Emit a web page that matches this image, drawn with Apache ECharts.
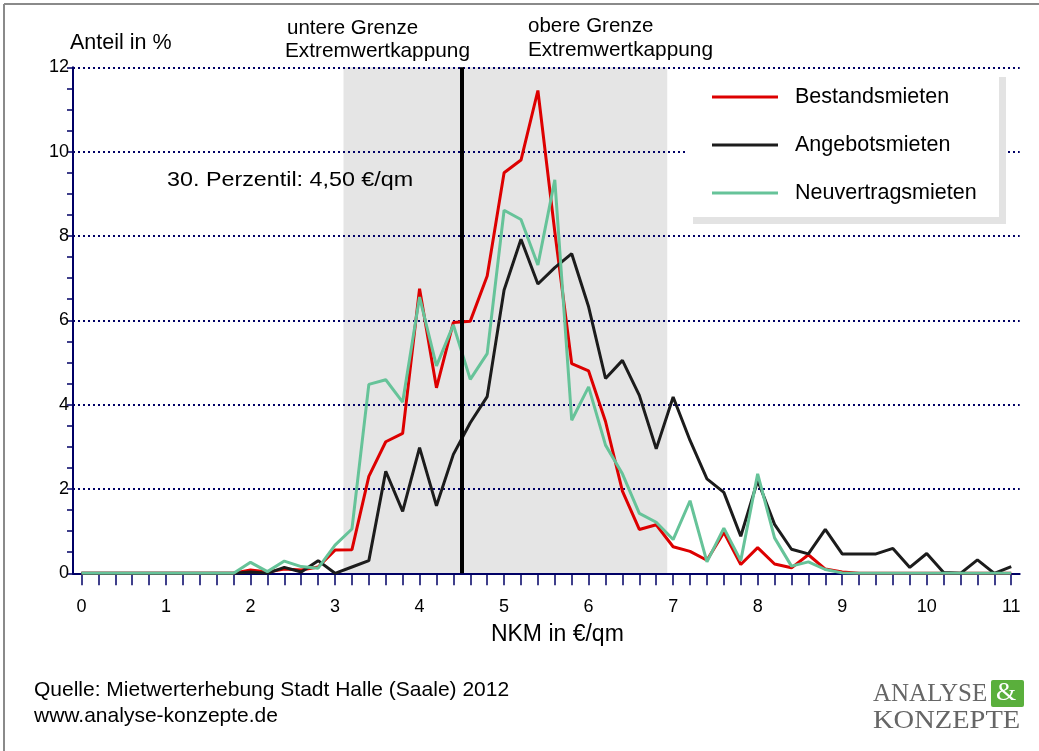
<!DOCTYPE html>
<html>
<head>
<meta charset="utf-8">
<script src="https://cdn.jsdelivr.net/npm/echarts@6/dist/echarts.min.js"></script>
<style>html,body{margin:0;padding:0;background:#fff}#c{width:1039px;height:751px}</style>
</head>
<body>
<div id="c"></div>
<script>
// NKM classes in €/qm (0.2 steps)
var xValues = [0,0.2,0.4,0.6,0.8,1,1.2,1.4,1.6,1.8,2,2.2,2.4,2.6,2.8,3,3.2,3.4,3.6,3.8,4,4.2,4.4,4.6,4.8,5,5.2,5.4,5.6,5.8,6,6.2,6.4,6.6,6.8,7,7.2,7.4,7.6,7.8,8,8.2,8.4,8.6,8.8,9,9.2,9.4,9.6,9.8,10,10.2,10.4,10.6,10.8,11];
var bestandsmieten = [0,0,0,0,0,0,0,0,0,0,
  0.08,0.03,0.1,0.08,0.15,0.55,0.56,2.3,3.12,3.32,6.75,4.4,5.95,5.98,7.05,9.5,9.8,11.45,8.1,4.97,4.8,3.6,1.95,1.04,1.15,0.63,0.52,0.31,0.97,0.21,0.61,0.22,0.13,0.44,0.1,0.03,
  0,0,0,0,0,0,0,0,0,0];
var angebotsmieten = [0,0,0,0,0,0,0,0,0,0,
  0.03,0,0.14,0.03,0.3,0,0.15,0.3,2.42,1.47,2.98,1.6,2.82,3.57,4.19,6.72,7.92,6.86,7.25,7.58,6.32,4.62,5.05,4.22,2.95,4.18,3.15,2.24,1.92,0.88,2.2,1.16,0.57,0.46,1.04,0.46,
  0.46,0.46,0.59,0.14,0.47,0.02,0,0.32,0,0.16];
var neuvertragsmieten = [0,0,0,0,0,0,0,0,0,0,
  0.26,0.04,0.29,0.16,0.12,0.67,1.05,4.48,4.59,4.06,6.55,4.92,5.89,4.6,5.21,8.61,8.39,7.31,9.33,3.63,4.42,3.04,2.36,1.42,1.21,0.8,1.72,0.27,1.07,0.3,2.36,0.84,0.17,0.27,0.09,0.01,
  0,0,0,0,0,0,0,0,0,0];
var seriesNames = ['Bestandsmieten','Angebotsmieten','Neuvertragsmieten'];
var xTickValues = xValues;
var xLabelValues = [0,1,2,3,4,5,6,7,8,9,10,11];
var bandFrom = 3.1, bandTo = 6.93;   // Extremwertkappung
var perzentil30 = 4.5;

function pair(ys){ return xValues.map(function(x,i){ return [x, ys[i]]; }); }

var FONT = '"Liberation Sans", Arial, sans-serif';
var SERIF = '"Liberation Serif", "DejaVu Serif", serif';
var NAVY = '#000066';

var chart = echarts.init(document.getElementById('c'), null, {renderer:'canvas'});
chart.setOption({
  animation: false,
  backgroundColor: '#fff',
  textStyle: {fontFamily: FONT},
  grid: {left: 73, right: 19.3, top: 67.3, bottom: 177.7, containLabel: false},
  xAxis: {
    type: 'value', min: -0.1, max: 11.1, z: 1.5,
    name: 'NKM in €/qm', nameLocation: 'middle', nameGap: 50,
    nameTextStyle: {fontSize: 23, color: '#000', fontFamily: FONT, padding: [0,0,0,22]},
    axisLine: {show: true, onZero: false, lineStyle: {color: NAVY, width: 2}},
    axisTick: {show: true, customValues: xTickValues, length: 12, lineStyle: {color: NAVY, width: 1.5}},
    axisLabel: {show: true, customValues: xLabelValues, hideOverlap: true, margin: 25, fontSize: 18, color: '#000', fontFamily: FONT},
    splitLine: {show: false}
  },
  yAxis: {
    type: 'value', min: 0, max: 12, interval: 2, z: 1.5,
    axisLine: {show: true, onZero: false, lineStyle: {color: NAVY, width: 2}},
    axisTick: {show: true, length: 6, lineStyle: {color: NAVY, width: 1.5}},
    minorTick: {show: true, splitNumber: 4, length: 6, lineStyle: {color: NAVY, width: 1.5}},
    axisLabel: {margin: 4, fontSize: 18, color: '#000', fontFamily: FONT},
    splitLine: {show: true, lineStyle: {color: NAVY, width: 2, type: [2,3]}}
  },
  legend: {
    orient: 'vertical', left: 707, top: 80, z: 8,
    itemWidth: 66, itemHeight: 3, itemGap: 24, icon: 'rect',
    data: seriesNames,
    selectedMode: false,
    textStyle: {fontSize: 21.5, color: '#000', fontFamily: FONT, lineHeight: 24, padding: [0,0,0,12]}
  },
  graphic: [
    {type: 'line', shape: {x1: 4, y1: 4, x2: 1039, y2: 4}, style: {stroke: '#8a8a8a', lineWidth: 2}, z: 6},
    {type: 'line', shape: {x1: 4, y1: 4, x2: 4, y2: 751}, style: {stroke: '#8a8a8a', lineWidth: 2}, z: 6},
    {type: 'rect', shape: {x: 693, y: 77, width: 313, height: 147}, style: {fill: '#e3e3e3'}, z: 6},
    {type: 'rect', shape: {x: 686, y: 70, width: 313, height: 147}, style: {fill: '#ffffff'}, z: 7},
    {type: 'text', left: 70, top: 32, z: 6, style: {text: 'Anteil in %', fontSize: 21.5, fill: '#000', fontFamily: FONT}},
    {type: 'text', left: 287, top: 18, z: 6, style: {text: 'untere Grenze', fontSize: 20.5, fill: '#000', fontFamily: FONT}},
    {type: 'text', left: 285, top: 41, z: 6, style: {text: 'Extremwertkappung', fontSize: 20.8, fill: '#000', fontFamily: FONT}},
    {type: 'text', left: 528, top: 16, z: 6, style: {text: 'obere Grenze', fontSize: 20.5, fill: '#000', fontFamily: FONT}},
    {type: 'text', left: 528, top: 40, z: 6, style: {text: 'Extremwertkappung', fontSize: 20.8, fill: '#000', fontFamily: FONT}},
    {type: 'text', x: 167, y: 170, scaleX: 1.11, z: 6, style: {text: '30. Perzentil: 4,50 €/qm', fontSize: 21, fill: '#000', fontFamily: FONT}},
    {type: 'text', left: 34, top: 680, z: 6, style: {text: 'Quelle: Mietwerterhebung Stadt Halle (Saale) 2012', fontSize: 21, fill: '#000', fontFamily: FONT}},
    {type: 'text', left: 34, top: 706, z: 6, style: {text: 'www.analyse-konzepte.de', fontSize: 21, fill: '#000', fontFamily: FONT}},
    {type: 'text', left: 873, top: 682, z: 6, style: {text: 'ANALYSE', fontSize: 25, fill: '#666', fontFamily: SERIF}},
    {type: 'rect', shape: {x: 991, y: 680, width: 33, height: 27, r: 2}, style: {fill: '#5aaf3c'}, z: 6},
    {type: 'text', left: 996, top: 680, z: 7, style: {text: '&', fontSize: 26, fill: '#fff', fontFamily: SERIF}},
    {type: 'text', x: 873, y: 709, scaleX: 1.14, z: 6, style: {text: 'KONZEPTE', fontSize: 25, fill: '#666', fontFamily: SERIF}}
  ],
  series: [
    {
      name: seriesNames[0], type: 'line', data: pair(bestandsmieten), z: 3,
      symbol: 'none', color: '#dd0000', lineStyle: {color: '#dd0000', width: 3},
      markArea: {silent: true, z: 1, itemStyle: {color: '#e5e5e5'}, data: [[{xAxis: bandFrom}, {xAxis: bandTo}]]},
      markLine: {silent: true, z: 5, symbol: ['none','none'], label: {show: false},
                 lineStyle: {color: '#000', width: 4, type: 'solid'}, data: [{xAxis: perzentil30}]}
    },
    {name: seriesNames[1], type: 'line', data: pair(angebotsmieten), z: 3,
     symbol: 'none', color: '#1c1c1c', lineStyle: {color: '#1c1c1c', width: 3}},
    {name: seriesNames[2], type: 'line', data: pair(neuvertragsmieten), z: 3,
     symbol: 'none', color: '#66c399', lineStyle: {color: '#66c399', width: 3}}
  ]
});
</script>
</body>
</html>
